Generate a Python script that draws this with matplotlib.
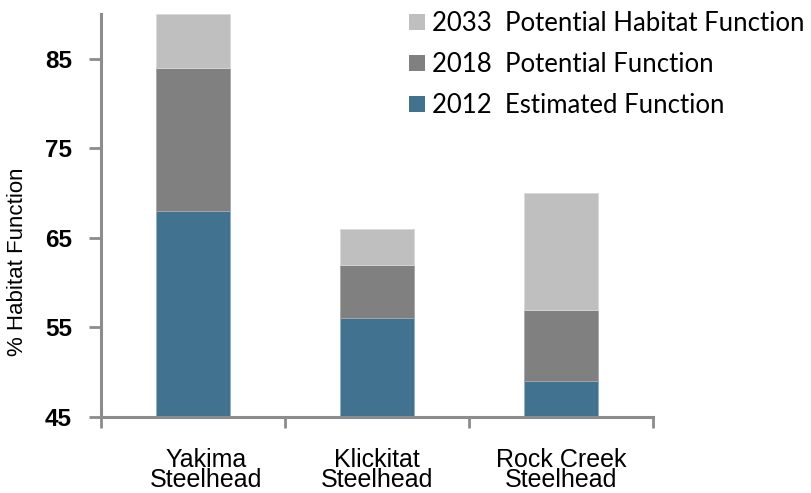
import matplotlib.pyplot as plt
import matplotlib.transforms as mtransforms
import numpy as np

# stocks on the x axis
stocks = ['Yakima\nSteelhead', 'Klickitat\nSteelhead', 'Rock Creek\nSteelhead']

# % habitat function (top of each stacked segment)
est_2012 = [68, 56, 49]
pot_2018 = [84, 62, 57]
pot_2033 = [90, 66, 70]

series_names = ['2033  Potential Habitat Function',
                '2018  Potential Function',
                '2012  Estimated Function']

base = 45
c_2012 = '#41728f'
c_2018 = '#808080'
c_2033 = '#bfbfbf'
axis_gray = '#8c8c8c'

fig = plt.figure(figsize=(8.12, 4.93), dpi=100)
ax = fig.add_axes([101/812, 1-417/493, (653-101)/812, (417-14)/493])

x = np.arange(len(stocks))
w = 0.40
b2012 = np.array(est_2012) - base
b2018 = np.array(pot_2018) - np.array(est_2012)
b2033 = np.array(pot_2033) - np.array(pot_2018)

ax.bar(x, b2012, w, bottom=base, color=c_2012, edgecolor='#8fb0c4', linewidth=0.6, label=series_names[2])
ax.bar(x, b2018, w, bottom=est_2012, color=c_2018, edgecolor='#a6a6a6', linewidth=0.6, label=series_names[1])
ax.bar(x, b2033, w, bottom=pot_2018, color=c_2033, edgecolor='#d9d9d9', linewidth=0.6, label=series_names[0])

ax.set_xlim(-0.5, len(stocks) - 0.5)
ax.set_ylim(45, 90)
ax.set_yticks([45, 55, 65, 75, 85])
ax.set_yticklabels(['45', '55', '65', '75', '85'], fontfamily='Liberation Sans',
                   fontweight='bold', fontsize=17.5)

# category labels between boundary ticks
ax.set_xticks(np.arange(len(stocks) + 1) - 0.5)
ax.set_xticklabels([])
ax.set_xticks(x, minor=True)
ax.set_xticklabels(stocks, minor=True, fontfamily='Liberation Sans', fontsize=18,
                   linespacing=0.8)
ax.tick_params(axis='x', which='minor', length=0, pad=22)
ax.tick_params(axis='x', which='major', length=8, width=2, color=axis_gray, direction='out')
ax.tick_params(axis='y', length=9, width=2, color=axis_gray, pad=12)

# the first label sits a little right of its bar in the original
lbl = ax.get_xticklabels(minor=True)[0]
lbl.set_transform(lbl.get_transform() + mtransforms.ScaledTranslation(13/100, 0, fig.dpi_scale_trans))

for s in ['top', 'right']:
    ax.spines[s].set_visible(False)
for s in ['left', 'bottom']:
    ax.spines[s].set_color(axis_gray)
    ax.spines[s].set_linewidth(2.2)

fig.text(18/812, 1-262/493, '% Habitat Function', rotation=90, ha='center', va='center',
         fontfamily='Liberation Sans', fontsize=16)

handles, labels = ax.get_legend_handles_labels()
leg = fig.legend(handles[::-1], labels[::-1], loc='upper left',
                 bbox_to_anchor=(399/812, 1 - 1/493), frameon=False,
                 prop={'family': 'Lato', 'size': 18.5}, handlelength=0.6, handleheight=0.6,
                 handletextpad=0.3, labelspacing=0.62, borderaxespad=0)
for h in leg.legend_handles:
    h.set_edgecolor('none')

fig.savefig('out.png', dpi=100)
